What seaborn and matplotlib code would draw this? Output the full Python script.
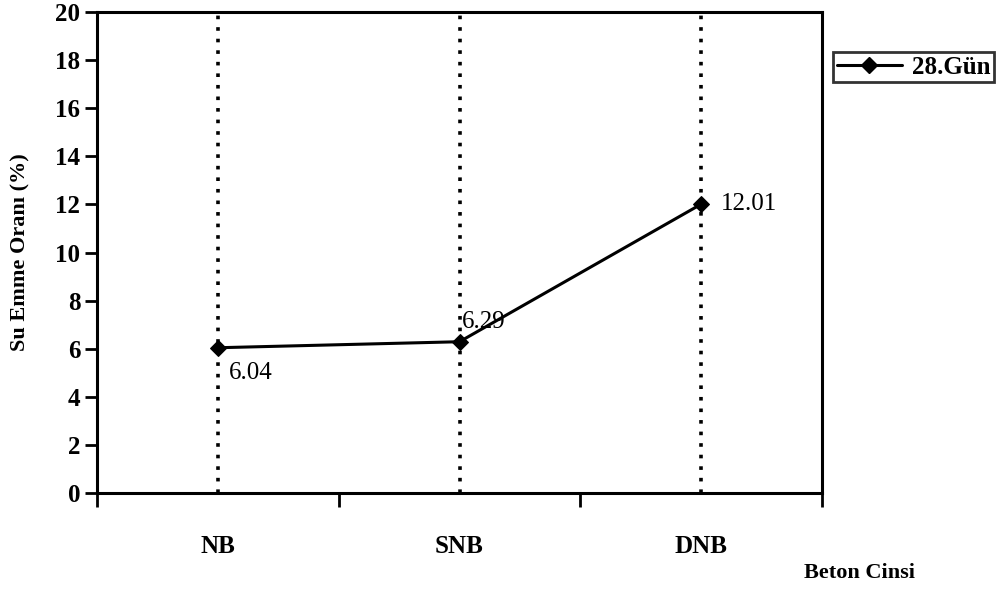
import matplotlib
matplotlib.use("Agg")
import matplotlib.pyplot as plt
from matplotlib.lines import Line2D
import seaborn as sns
import pandas as pd

categories = ["NB", "SNB", "DNB"]
values = [6.04, 6.29, 12.01]
series_name = "28.Gün"
y_ticks = [0, 2, 4, 6, 8, 10, 12, 14, 16, 18, 20]

sns.set_theme(style="ticks")
plt.rcParams["font.family"] = ["Liberation Serif", "DejaVu Serif"]
plt.rcParams["text.color"] = "black"
plt.rcParams["axes.labelcolor"] = "black"
plt.rcParams["xtick.color"] = "black"
plt.rcParams["ytick.color"] = "black"

df = pd.DataFrame({"Beton Cinsi": categories, "Su Emme Oranı (%)": values})
df["pos"] = range(len(categories))

fig = plt.figure(figsize=(10, 5.89), dpi=100)
ax = fig.add_axes([0.097, 0.163, 0.725, 0.8166])

# vertical dotted guide lines at each category
for p in df["pos"]:
    ax.plot([p, p], [0, 20], color="black", linestyle=(0, (1, 2.2)), linewidth=2.6, zorder=1)

sns.lineplot(data=df, x="pos", y="Su Emme Oranı (%)", ax=ax, color="black",
             linewidth=2.2, marker="D", markersize=8, markeredgecolor="black",
             markerfacecolor="black", zorder=3, legend=False)

# value labels
offsets = [(8, -10, "top"), (2, 6, "bottom"), (14, 0, "center")]
for (p, v), (dx, dy, va) in zip(zip(df["pos"], df["Su Emme Oranı (%)"]), offsets):
    ax.annotate(f"{v:.2f}", (p, v), xytext=(dx, dy), textcoords="offset points",
                ha="left", va=va, fontsize=18, color="black")

ax.set_xlim(-0.5, len(categories) - 0.5)
ax.set_ylim(0, 20)
ax.set_yticks(y_ticks)
ax.set_yticklabels([str(t) for t in y_ticks], fontsize=18, fontweight="bold")

# category boundaries carry the tick marks, names sit at the centres
ax.set_xticks([i - 0.5 for i in range(len(categories) + 1)])
ax.set_xticklabels([""] * (len(categories) + 1))
ax.set_xticks(list(df["pos"]), minor=True)
ax.set_xticklabels(categories, minor=True, fontsize=18, fontweight="bold")
ax.tick_params(axis="x", which="major", bottom=True, direction="out", length=10, width=2, color="black")
ax.tick_params(axis="x", which="minor", bottom=True, length=0, pad=30)
ax.tick_params(axis="y", left=True, direction="out", length=9, width=2, color="black", pad=3)

for s in ax.spines.values():
    s.set_visible(True)
    s.set_color("black")
    s.set_linewidth(2.2)

ax.set_xlabel("")
ax.set_ylabel("Su Emme Oranı (%)", fontsize=16, fontweight="bold", labelpad=18)
fig.text(0.86, 0.028, "Beton Cinsi", fontsize=16, fontweight="bold", ha="center", va="center")

handle = Line2D([], [], color="black", linewidth=2.2, marker="D", markersize=8)
leg = ax.legend([handle], [series_name], loc="upper left", bbox_to_anchor=(1.015, 0.917),
                frameon=True, fancybox=False, prop={"size": 18, "weight": "bold"},
                handlelength=2.6, handletextpad=0.4, borderpad=0.15, borderaxespad=0)
leg.get_frame().set_edgecolor("black")
leg.get_frame().set_linewidth(2)

fig.savefig("out.png", dpi=100, facecolor="white")
